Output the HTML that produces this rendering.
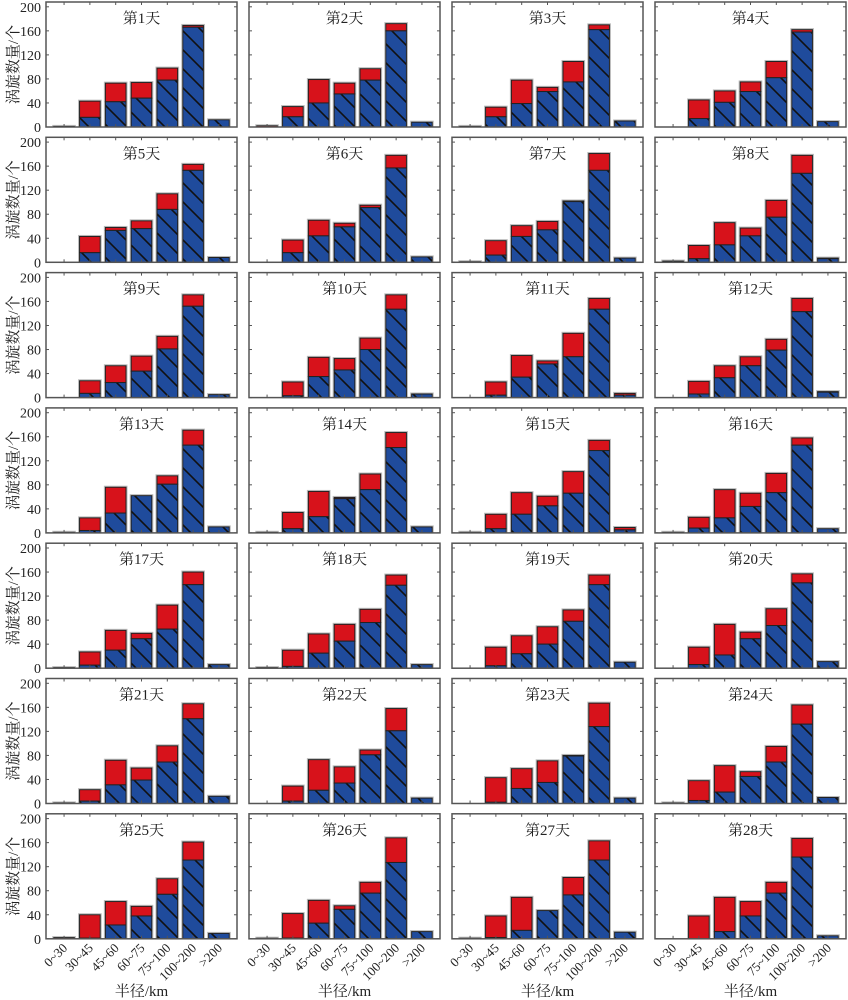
<!DOCTYPE html>
<html><head><meta charset="utf-8">
<style>
html,body{margin:0;padding:0;background:#fff;}
svg{display:block;}
text{font-family:"Liberation Serif","Noto Serif CJK SC",serif;fill:#222;}
</style></head>
<body>
<svg id="chart" width="848" height="1000" viewBox="0 0 848 1000" xmlns="http://www.w3.org/2000/svg">
<defs>
<pattern id="hatch" patternUnits="userSpaceOnUse" width="19" height="19">
<rect width="19" height="19" fill="#1f4b9c"/>
<path d="M-2,-2 L21,21 M-2,17 L2,21 M17,-2 L21,2" stroke="#111" stroke-width="1.6"/>
</pattern>
</defs>
</svg>
<script>
const categories = ["0~30","30~45","45~60","60~75","75~100","100~200",">200"];
const yTicks = [0,40,80,120,160,200];
const dayTitles = Array.from({length:28},(_,i)=>"第"+(i+1)+"天");
// blue (lower, hatched) counts per day
const blueCounts = [
[1,16,42,48,78,166,12],[0,17,40,55,78,160,8],[1,17,39,59,75,162,10],[0,14,41,59,82,158,9],
[0,16,53,56,88,153,8],[0,16,44,59,91,157,9],[1,12,43,54,101,153,7],[2,6,29,44,75,148,6],
[0,7,25,44,81,152,5],[0,3,35,46,80,147,6],[0,4,34,56,68,147,4],[0,6,33,53,79,143,9],
[1,4,33,62,81,146,10],[1,7,27,57,72,142,10],[1,7,31,45,66,137,5],[0,8,25,44,67,146,7],
[0,5,30,49,65,139,6],[0,3,25,45,76,138,6],[0,4,24,40,78,139,10],[0,6,22,49,71,142,11],
[0,4,31,39,69,141,12],[0,4,22,34,81,121,9],[0,2,25,35,79,128,9],[1,5,19,45,69,132,10],
[0,1,23,38,74,131,9],[0,1,26,49,76,127,12],[0,2,14,47,73,131,11],[0,0,12,38,76,136,5]
];
// total (blue + red) counts per day
const totalCounts = [
[1,43,73,74,98,169,12],[2,34,79,73,97,172,8],[1,33,78,66,109,170,10],[0,45,60,75,109,162,9],
[0,43,58,69,114,163,8],[0,37,70,65,95,178,9],[1,36,61,68,102,181,7],[2,28,66,57,103,178,7],
[0,28,53,69,102,171,5],[0,26,67,65,99,171,6],[0,26,70,61,107,165,7],[0,27,53,68,97,165,10],
[1,25,76,62,95,171,10],[1,34,69,59,98,167,10],[1,31,67,61,102,154,9],[1,26,72,66,99,158,7],
[1,27,63,58,105,160,6],[1,30,57,73,98,155,6],[0,35,54,69,97,155,10],[0,35,73,60,99,157,11],
[1,23,72,59,96,166,12],[0,29,73,61,89,158,9],[0,43,58,71,80,167,9],[1,38,63,53,95,164,10],
[2,40,62,54,100,161,9],[1,42,64,55,94,168,12],[1,38,69,47,102,163,11],[0,38,69,62,94,167,5]
];

const NS="http://www.w3.org/2000/svg";
const svg=document.getElementById('chart');
const colLeft=[46,249,452,655], panelW=191;
const row0Bottom=127, rowPitch=135.3, panelH=125, yMax=208;
function mk(tag,attrs,parent){const e=document.createElementNS(NS,tag);for(const k in attrs)e.setAttribute(k,attrs[k]);(parent||svg).appendChild(e);return e;}

for(let d=0; d<28; d++){
  const r=Math.floor(d/4), c=d%4;
  const left=colLeft[c], bottom=row0Bottom+r*rowPitch, top=bottom-panelH;
  const xPos=i=>left+(i+0.7)*(panelW/7.4);
  const yPos=v=>bottom-v*(panelH/yMax);
  const bw=0.8*panelW/7.4;
  const g=mk('g',{});
  
  
  // bars
  for(let i=0;i<categories.length;i++){
    const b=blueCounts[d][i], t=totalCounts[d][i];
    if(t<=0) continue;
    const x=xPos(i)-bw/2;
    const outline=mk('rect',{x:x-1,y:yPos(t)-1,width:bw+2,height:yPos(0)-yPos(t)+1,fill:'none',stroke:'#bbb','stroke-width':1},g);
    
    
    if(t>b){
      const red=mk('rect',{x:x,y:yPos(t),width:bw,height:yPos(b)-yPos(t),fill:'#d7121b',stroke:'#222','stroke-width':1},g);
      
      
    }
    if(b>0){
      const blue=mk('rect',{x:x,y:yPos(b),width:bw,height:yPos(0)-yPos(b),fill:'url(#hatch)',stroke:'#222','stroke-width':1},g);
      
      
    }
  }
  // frame
  const frame=mk('rect',{x:left,y:top,width:panelW,height:panelH,fill:'none',stroke:'#555','stroke-width':1.5},g);
  
  
  // ticks
  for(const v of yTicks){
    const y=yPos(v);
    mk('line',{x1:left,x2:left+3,y1:y,y2:y,stroke:'#555','stroke-width':1},g);
    mk('line',{x1:left+panelW-3,x2:left+panelW,y1:y,y2:y,stroke:'#555','stroke-width':1},g);
    if(c===0){
      const t=mk('text',{x:left-5,y:y+5,'text-anchor':'end','font-size':14},g);
      t.textContent=v;
      
      
    }
  }
  for(let i=0;i<categories.length;i++){
    const x=xPos(i);
    mk('line',{x1:x,x2:x,y1:top,y2:top+3,stroke:'#555','stroke-width':1},g);
    mk('line',{x1:x,x2:x,y1:bottom-3,y2:bottom,stroke:'#555','stroke-width':1},g);
    if(r===6){
      const t=mk('text',{x:x+4,y:bottom+10,'text-anchor':'end','font-size':13,transform:'rotate(-45 '+(x+4)+' '+(bottom+10)+')'},g);
      t.textContent=categories[i];
      
      
    }
  }
  const title=mk('text',{x:left+panelW/2,y:top+21,'text-anchor':'middle','font-size':15},g);
  title.textContent=dayTitles[d];
  
  
  if(c===0){
    const cy=top+panelH/2;
    const yt=mk('text',{x:18,y:cy,'text-anchor':'middle','font-size':15,transform:'rotate(-90 18 '+cy+')'},g);
    yt.textContent='涡旋数量/个';
    
    
  }
  if(r===6){
    const xt=mk('text',{x:left+panelW/2,y:996,'text-anchor':'middle','font-size':15},g);
    xt.textContent='半径/km';
    
    
  }
}
</script>
</body></html>
